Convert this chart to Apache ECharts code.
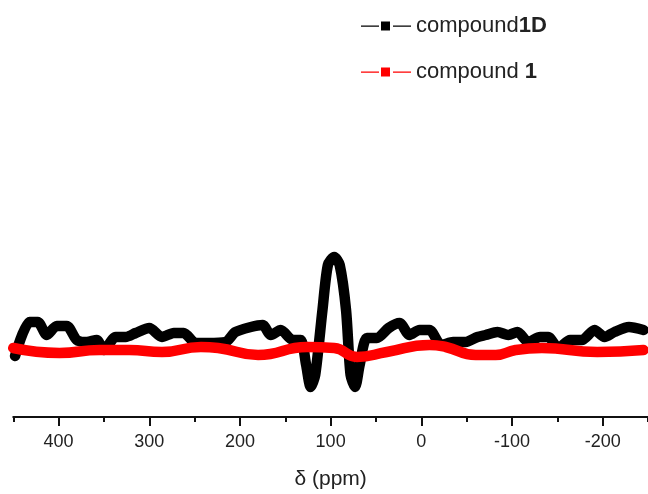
<!DOCTYPE html>
<html>
<head>
<meta charset="UTF-8">
<title>compound spectra</title>
<script src="https://cdn.jsdelivr.net/npm/echarts@6/dist/echarts.min.js"></script>
<style>
  html, body { margin: 0; padding: 0; background: #fff; }
  #main { width: 648px; height: 494px; }
</style>
</head>
<body>
<div id="main"></div>
<script>
// chemical shift (ppm) and intensity pairs
var ppmBlack = [448, 432, 423, 413, 402, 391, 380, 369, 358, 350, 337, 326, 315, 300, 286, 273, 262, 249, 235,
                216, 205, 188, 175, 166, 155, 142, 133, 127, 122, 117, 109, 103, 96, 90, 83, 78, 73, 68, 60,
                49, 36, 24, 13, 2, -9, -22, -35, -49, -62, -71, -84, -96, -106, -118, -131, -140, -151, -164,
                -177, -191, -202, -213, -229, -245];
var valBlack = [30.5, 47.5, 47.5, 41, 45.5, 45.5, 38.5, 37.5, 38.5, 33.5, 40, 40, 42, 44.5, 40, 42, 42, 37, 37,
                37.5, 42.5, 45, 46, 41, 43.5, 38.5, 38.5, 26, 15, 21, 53.5, 76, 80, 76, 53.5, 21, 15, 26, 39.5,
                39.5, 44.5, 47, 41, 43.5, 43.5, 36, 37.5, 37.5, 40, 41, 42.5, 41, 42.5, 37.5, 40, 40, 34.5, 38.5,
                38.5, 43.5, 40, 42.5, 45, 43.5];

var ppmRed = [450, 399, 355, 322, 286, 243, 224, 180, 126, 96, 71, 38, -9, -27, -60, -82, -104, -133, -194, -245];
var valRed = [34.5, 32, 33.5, 33.5, 32.5, 35, 34.5, 31, 35, 34.5, 30, 32.5, 36, 35, 31, 31, 33.5, 34.5, 32.5, 33.5];

var majorTicks = [400, 300, 200, 100, 0, -100, -200];
var minorTicks = [450, 350, 250, 150, 50, -50, -150, -250];

function pairs(xs, ys) {
  return xs.map(function (x, i) { return [x, ys[i]]; });
}

var chart = echarts.init(document.getElementById('main'), null, {renderer: 'canvas'});

var legendIcon = 'path://M0,4h18v1.2H0z M20,0h9v9h-9z M32,4h18v1.2H32z';

var option = {
  animation: false,
  backgroundColor: '#fff',
  grid: {left: 13.25, right: -5.75, top: 217, bottom: 77},
  legend: {
    orient: 'vertical',
    left: 356,
    top: 10,
    itemGap: 24,
    itemWidth: 50,
    itemHeight: 9,
    icon: legendIcon,
    selectedMode: false,
    data: ['compound1D', 'compound 1'],
    formatter: function (name) {
      if (name === 'compound1D') return '{n|compound}{b|1D}';
      return '{n|compound }{b|1}';
    },
    textStyle: {
      fontFamily: 'Liberation Sans',
      fontSize: 22,
      color: '#222',
      rich: {
        n: {fontFamily: 'Liberation Sans', fontSize: 22, color: '#222'},
        b: {fontFamily: 'Liberation Sans', fontSize: 22, fontWeight: 'bold', color: '#222'}
      }
    }
  },
  xAxis: [{
    type: 'value',
    inverse: true,
    min: -250,
    max: 450,
    position: 'bottom',
    name: 'δ (ppm)',
    nameLocation: 'middle',
    nameGap: 52,
    nameTextStyle: {fontFamily: 'Liberation Sans', fontSize: 21, color: '#222'},
    axisLine: {show: true, lineStyle: {color: '#111', width: 2}},
    axisTick: {show: true, inside: false, length: 9, lineStyle: {color: '#111', width: 2}, customValues: majorTicks},
    axisLabel: {show: true, margin: 16, fontFamily: 'Liberation Sans', fontSize: 18, color: '#222', customValues: majorTicks},
    splitLine: {show: false}
  }, {
    type: 'value',
    inverse: true,
    min: -250,
    max: 450,
    position: 'bottom',
    axisLine: {show: false},
    axisTick: {show: true, inside: false, length: 5, lineStyle: {color: '#111', width: 2}, customValues: minorTicks},
    axisLabel: {show: false},
    splitLine: {show: false}
  }],
  yAxis: {
    type: 'value',
    min: 0,
    max: 100,
    show: false,
    splitLine: {show: false}
  },
  series: [{
    name: 'compound1D',
    type: 'line',
    xAxisIndex: 0,
    data: pairs(ppmBlack, valBlack),
    showSymbol: false,
    symbol: 'rect',
    smooth: 0.25,
    color: '#000',
    lineStyle: {color: '#000', width: 10.5, join: 'round', cap: 'round'},
    z: 2
  }, {
    name: 'compound 1',
    type: 'line',
    xAxisIndex: 0,
    data: pairs(ppmRed, valRed),
    showSymbol: false,
    symbol: 'rect',
    smooth: true,
    color: '#f00',
    lineStyle: {color: '#f00', width: 10.5, join: 'round', cap: 'round'},
    z: 3
  }]
};

chart.setOption(option);
</script>
</body>
</html>
